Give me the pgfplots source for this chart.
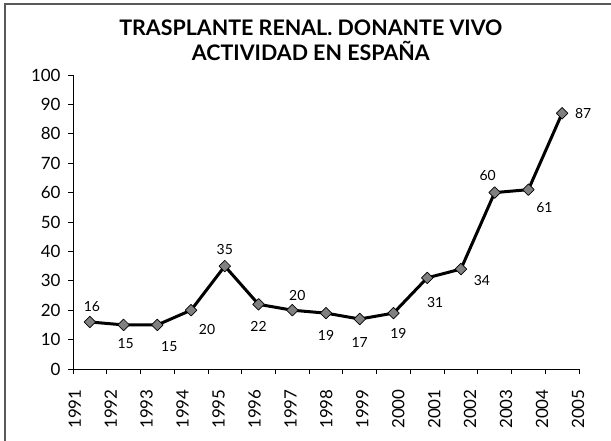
\documentclass[border=0pt]{standalone}
\usepackage{pgfplots}
\pgfplotsset{compat=1.18}
\usepackage{pgfplotstable}
\usepackage{fontspec}
\setmainfont{Lato}
\pgfplotstableread{
x y dx dy
0 16 2 -15
1 15 2 19
2 15 12 22
3 20 16 19
4 35 0 -17
5 22 0 22
6 20 5 -15
7 19 0 22
8 17 0 23
9 19 5 20
10 31 8 25
11 34 21 11
12 60 -7 -17
13 61 16 18
14 87 21 0
}\datatable
\begin{document}
\begin{tikzpicture}
\useasboundingbox (-73bp,-72bp) rectangle (538bp,369bp);
\draw[line width=1.5bp, color=black!65] (-68bp,-73bp) -- (-68bp,365bp) -- (539bp,365bp);
\begin{axis}[
  at={(0,0)}, anchor=south west,
  scale only axis, width=506bp, height=294bp,
  xmin=-0.5, xmax=14.5, ymin=0, ymax=100,
  clip=false,
  axis lines*=left,
  axis line style={-, line width=0.8bp, black},
  ytick={0,10,...,100},
  xtick={-0.45,0.616,1.681,2.747,3.813,4.879,5.944,7.010,8.076,9.141,10.207,11.273,12.338,13.404,14.47},
  xticklabels={1991,1992,1993,1994,1995,1996,1997,1998,1999,2000,2001,2002,2003,2004,2005},
  minor xtick={-0.5,0.5,...,14.5},
  tick align=outside,
  major tick length=5bp, minor tick length=5bp,
  every major x tick/.append style={draw=none},
  tick style={black, line width=0.8bp},
  /pgf/number format/assume math mode=true,
  ticklabel style={font=\fontsize{17}{19}\selectfont},
  xticklabel style={rotate=90, anchor=east},
  xticklabel shift=12bp,
  yticklabel style={xshift=-4bp},
  title={TRASPLANTE RENAL. DONANTE VIVO\\ACTIVIDAD EN ESPAÑA},
  title style={at={(0.47,1)}, anchor=south, align=center, inner sep=0pt, yshift=8bp,
    font=\bfseries\fontsize{21.5}{25}\selectfont},
]
\addplot[black, line width=3bp, line join=round,
  mark=square*, mark size=4.1bp,
  mark options={rotate=45, fill=gray, draw=black, line width=0.7bp},
  nodes near coords,
  visualization depends on={\thisrow{dx}\as\mydx},
  visualization depends on={\thisrow{dy}\as\mydy},
  every node near coord/.append style={anchor=center, xshift=\mydx bp, yshift=-\mydy bp,
     font=\fontsize{14}{16}\selectfont, black},
] table[x=x, y=y] {\datatable};
\end{axis}
\end{tikzpicture}
\end{document}
